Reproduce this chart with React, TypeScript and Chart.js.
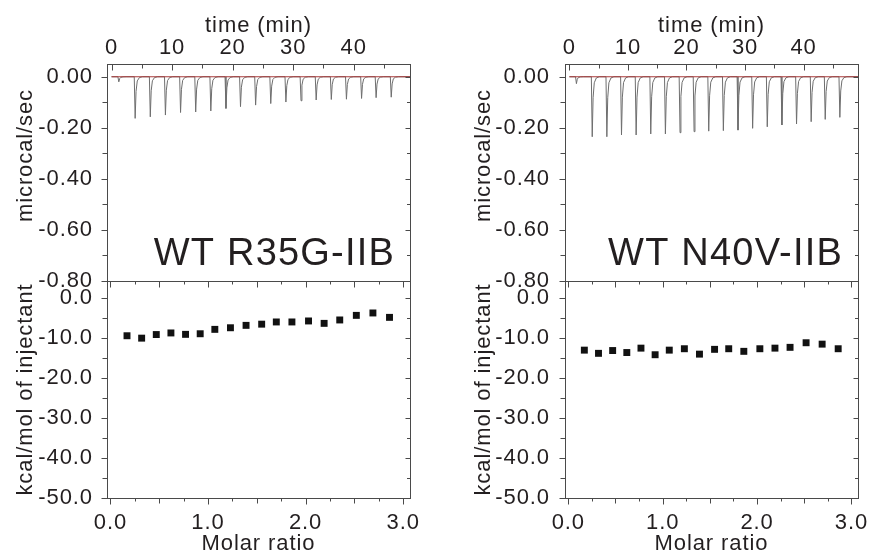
import React, { useEffect, useRef } from 'react';
import { Chart, registerables } from 'chart.js';

Chart.register(...registerables);

const FONT_FAMILY = '"Liberation Sans", Arial, Helvetica, sans-serif';
const TEXT_COLOR = '#231f20';
const FRAME_COLOR = '#4a4a4a';
const LETTER_SPACING = '0.9px';
const FONT_SIZE = 22;

// ---------- data ----------
// injection times (min) of the raw ITC thermogram (first one is the small pre-injection)
const injectionTimes = [1.1, 3.8, 6.3, 8.8, 11.3, 13.8, 16.3, 18.8, 21.2, 23.7, 26.2, 28.7, 31.2, 33.7, 36.2, 38.7, 41.2, 43.6, 46.1];
// peak heights (microcal/sec)
const rawPeaksR35G = [-0.02, -0.163, -0.157, -0.15, -0.14, -0.138, -0.134, -0.124, -0.117, -0.111, -0.105, -0.099, -0.094, -0.091, -0.089, -0.088, -0.085, -0.082, -0.08];
const rawPeaksN40V = [-0.027, -0.235, -0.235, -0.228, -0.228, -0.224, -0.224, -0.219, -0.215, -0.213, -0.211, -0.209, -0.202, -0.196, -0.189, -0.185, -0.176, -0.167, -0.159];
const traceEnd = 49.3;

// integrated heats
const molarRatio = [0.17, 0.32, 0.47, 0.62, 0.77, 0.92, 1.07, 1.23, 1.39, 1.55, 1.7, 1.86, 2.03, 2.19, 2.35, 2.52, 2.69, 2.86];
const heatR35G = [-9.4, -10.0, -9.1, -8.7, -9.05, -8.9, -7.8, -7.4, -6.8, -6.5, -5.95, -5.95, -5.7, -6.3, -5.45, -4.3, -3.7, -4.8];
const heatN40V = [-13.0, -13.8, -13.1, -13.6, -12.5, -14.15, -13.0, -12.65, -14.0, -12.8, -12.65, -13.3, -12.65, -12.5, -12.3, -11.15, -11.5, -12.65];

// ---------- axis ticks ----------
const timeTickLabels = ['0', '10', '20', '30', '40'];
const timeMinorTicks = [5, 15, 25, 35, 45];
const rateTickLabels = ['0.00', '-0.20', '-0.40', '-0.60', '-0.80'];
const rateMinorTicks = [-0.1, -0.3, -0.5, -0.7];
const heatTickLabels = ['0.0', '-10.0', '-20.0', '-30.0', '-40.0', '-50.0'];
const heatMinorTicks = [-5, -15, -25, -35, -45];
const molarTickLabels = ['0.0', '1.0', '2.0', '3.0'];
const molarMinorTicks = [0.25, 0.5, 0.75, 1.25, 1.5, 1.75, 2.25, 2.5, 2.75];

const panelLabels = ['WT R35G-IIB', 'WT N40V-IIB'];
const rateTitle = 'microcal/sec';
const heatTitle = 'kcal/mol of injectant';

// ---------- layout ----------
const PLOT_TOP = 64;
const PLOT_MID = 281;
const PLOT_BOTTOM = 498;
const CANVAS_H = 557;
const Y_AXIS_W = 107;
const RIGHT_PAD = 20;

// spike shape (relative time offsets / fraction of peak) used to draw the raw trace
const SPIKE_OFFSETS = [-0.05, 0.1, 0.25, 0.45, 0.8, 1.3];
const SPIKE_FRACTIONS = [0, 1, 0.35, 0.1, 0.02, 0];

function buildTrace(times: number[], peaks: number[]) {
  const pts: { x: number; y: number }[] = [{ x: 0, y: 0 }];
  times.forEach((t, i) => {
    SPIKE_OFFSETS.forEach((o, j) => pts.push({ x: t + o, y: peaks[i] * SPIKE_FRACTIONS[j] }));
  });
  pts.push({ x: traceEnd, y: 0 });
  return pts;
}

function font(size: number) {
  return { family: FONT_FAMILY, size, lineHeight: 1.2 };
}

function axis(o: any) {
  const values = o.labels.map(Number);
  return {
    type: 'linear',
    position: o.position,
    min: o.min,
    max: o.max,
    afterBuildTicks: (scale: any) => {
      scale.ticks = [...values, ...o.minor].sort((a: number, b: number) => a - b).map((v: number) => ({ value: v }));
    },
    afterFit: (scale: any) => {
      if (scale.isHorizontal()) scale.height = o.size;
      else scale.width = o.size;
      scale.paddingLeft = 0;
      scale.paddingRight = 0;
      scale.paddingTop = 0;
      scale.paddingBottom = 0;
    },
    grid: { display: false, drawTicks: false },
    border: { display: false },
    ticks: {
      callback: (value: number) => {
        const i = values.findIndex((v: number) => Math.abs(v - value) < 1e-9);
        return i >= 0 ? o.labels[i] : '';
      },
      autoSkip: false,
      maxRotation: 0,
      minRotation: 0,
      padding: o.tickPad,
      color: TEXT_COLOR,
      font: font(FONT_SIZE),
    },
    title: {
      display: !!o.title,
      text: o.title || '',
      color: TEXT_COLOR,
      font: font(FONT_SIZE),
      padding: o.titlePad || 0,
    },
  };
}

const isMultiple = (v: number, step: number) => Math.abs(v / step - Math.round(v / step)) < 1e-6;

const framePlugin = {
  id: 'panelFrame',
  beforeUpdate(chart: any) {
    chart.ctx.letterSpacing = LETTER_SPACING;
  },
  beforeDraw(chart: any) {
    chart.ctx.letterSpacing = LETTER_SPACING;
  },
  afterDraw(chart: any, _args: any, opts: any) {
    const { ctx, chartArea: a, scales } = chart;
    const px = (v: number) => Math.round(v) + 0.5;
    const L = px(a.left), R = px(a.right), T = px(a.top), B = px(a.bottom);
    ctx.save();
    ctx.strokeStyle = FRAME_COLOR;
    ctx.lineWidth = 1;
    ctx.strokeRect(L, T, R - L, B - T);
    ctx.beginPath();
    for (const s of opts.sides || []) {
      const scale = scales[s.scale];
      for (const tick of scale.ticks) {
        let len = s.minor;
        if (tick.label) len = s.major;
        else if (s.mid && isMultiple(tick.value, s.mid)) len = s.midLen;
        const p = px(scale.getPixelForValue(tick.value));
        const d = s.inward ? 1 : -1;
        if (s.side === 'left') { ctx.moveTo(L, p); ctx.lineTo(L + d * len, p); }
        if (s.side === 'right') { ctx.moveTo(R, p); ctx.lineTo(R - d * len, p); }
        if (s.side === 'top') { ctx.moveTo(p, T); ctx.lineTo(p, T + d * len); }
        if (s.side === 'bottom') { ctx.moveTo(p, B); ctx.lineTo(p, B - d * len); }
      }
    }
    ctx.stroke();
    ctx.fillStyle = TEXT_COLOR;
    ctx.letterSpacing = LETTER_SPACING;
    if (opts.yTitle) {
      ctx.save();
      ctx.font = `${FONT_SIZE}px ${FONT_FAMILY}`;
      ctx.translate(a.left - 75, (a.top + a.bottom) / 2 + opts.yTitle.dy);
      ctx.rotate(-Math.PI / 2);
      ctx.textAlign = 'center';
      ctx.textBaseline = 'alphabetic';
      ctx.fillText(opts.yTitle.text, 0, 0);
      ctx.restore();
    }
    if (opts.label) {
      ctx.font = `38px ${FONT_FAMILY}`;
      ctx.textAlign = 'right';
      ctx.textBaseline = 'alphabetic';
      ctx.letterSpacing = '1.2px';
      ctx.fillText(opts.label, a.right - 15, a.bottom - 16);
    }
    ctx.restore();
  },
};

type Spec = {
  kind: 'raw' | 'heat';
  col: number;
  x: number;
  y: number;
  w: number;
  h: number;
};

const COLS = [
  { plotLeft: 107, plotRight: 410, yPad: 14, peaks: rawPeaksR35G, heat: heatR35G },
  { plotLeft: 565, plotRight: 858, yPad: 15, peaks: rawPeaksN40V, heat: heatN40V },
];

function buildConfig(spec: Spec): any {
  const col = COLS[spec.col];
  const common = {
    animation: false,
    responsive: false,
    devicePixelRatio: 1,
    events: [],
  };
  if (spec.kind === 'raw') {
    return {
      type: 'scatter',
      data: {
        datasets: [
          {
            label: 'baseline',
            data: [{ x: 0, y: 0 }, { x: traceEnd, y: 0 }],
            showLine: true,
            borderColor: '#a83a3a',
            borderWidth: 1,
            pointRadius: 0,
          },
          {
            label: 'raw',
            data: buildTrace(injectionTimes, col.peaks),
            showLine: true,
            borderColor: '#6e6e6e',
            borderWidth: 1,
            pointRadius: 0,
          },
        ],
      },
      options: {
        ...common,
        layout: { padding: { left: 0, top: 0, right: RIGHT_PAD, bottom: spec.h - PLOT_MID } },
        scales: {
          x: axis({ position: 'top', min: -0.75, max: 49.3, labels: timeTickLabels, minor: timeMinorTicks, size: PLOT_TOP, tickPad: 3, title: 'time (min)', titlePad: { top: 13, bottom: 0 } }),
          y: axis({ position: 'left', min: -0.8, max: 0.05, labels: rateTickLabels, minor: rateMinorTicks, size: Y_AXIS_W, tickPad: col.yPad }),
        },
        plugins: {
          legend: { display: false },
          tooltip: { enabled: false },
          panelFrame: {
            label: panelLabels[spec.col],
            yTitle: { text: rateTitle, dy: -17 },
            sides: [
              { side: 'left', scale: 'y', inward: false, major: 6, minor: 5 },
              { side: 'right', scale: 'y', inward: true, major: 5, minor: 3.5 },
              { side: 'top', scale: 'x', inward: true, major: 6, minor: 4 },
            ],
          },
        },
      },
      plugins: [framePlugin],
    };
  }
  return {
    type: 'scatter',
    data: {
      datasets: [
        {
          label: 'heat',
          data: molarRatio.map((x, i) => ({ x, y: col.heat[i] })),
          pointStyle: 'rect',
          pointRadius: 4.9,
          backgroundColor: '#111111',
          borderColor: '#111111',
          borderWidth: 0,
        },
      ],
    },
    options: {
      ...common,
      layout: { padding: { left: 0, top: PLOT_MID - spec.y, right: RIGHT_PAD, bottom: 0 } },
      scales: {
        x: axis({ position: 'bottom', min: -0.035, max: 3.07, labels: molarTickLabels, minor: molarMinorTicks, size: CANVAS_H - PLOT_BOTTOM, tickPad: 12, title: 'Molar ratio', titlePad: { top: 0, bottom: 0 } }),
        y: axis({ position: 'left', min: -50, max: 4.3, labels: heatTickLabels, minor: heatMinorTicks, size: Y_AXIS_W, tickPad: col.yPad }),
      },
      plugins: {
        legend: { display: false },
        tooltip: { enabled: false },
        panelFrame: {
          yTitle: { text: heatTitle, dy: 0 },
          sides: [
            { side: 'left', scale: 'y', inward: false, major: 6, minor: 5 },
            { side: 'right', scale: 'y', inward: true, major: 5, minor: 3.5 },
            { side: 'top', scale: 'x', inward: true, major: 6, minor: 3, mid: 0.5, midLen: 6 },
            { side: 'bottom', scale: 'x', inward: false, major: 6, minor: 3, mid: 0.5, midLen: 5 },
          ],
        },
      },
    },
    plugins: [framePlugin],
  };
}

function Panel({ spec }: { spec: Spec }) {
  const ref = useRef<HTMLCanvasElement>(null);
  useEffect(() => {
    const chart = new Chart(ref.current as HTMLCanvasElement, buildConfig(spec));
    return () => chart.destroy();
  }, [spec]);
  return (
    <canvas
      ref={ref}
      width={spec.w}
      height={spec.h}
      style={{ position: 'absolute', left: spec.x, top: spec.y, width: spec.w, height: spec.h }}
    />
  );
}

const SPECS: Spec[] = [];
COLS.forEach((c, i) => {
  const w = Y_AXIS_W + (c.plotRight - c.plotLeft) + RIGHT_PAD;
  const x = c.plotLeft - Y_AXIS_W;
  SPECS.push({ kind: 'raw', col: i, x, y: 0, w, h: PLOT_MID + 9 });
  SPECS.push({ kind: 'heat', col: i, x, y: PLOT_MID - 11, w, h: CANVAS_H - (PLOT_MID - 11) });
});

export default function App() {
  return (
    <div style={{ position: 'absolute', left: 0, top: 0, width: 878, height: 557, background: '#ffffff', overflow: 'hidden' }}>
      {SPECS.map((s, i) => (
        <Panel key={i} spec={s} />
      ))}
    </div>
  );
}
